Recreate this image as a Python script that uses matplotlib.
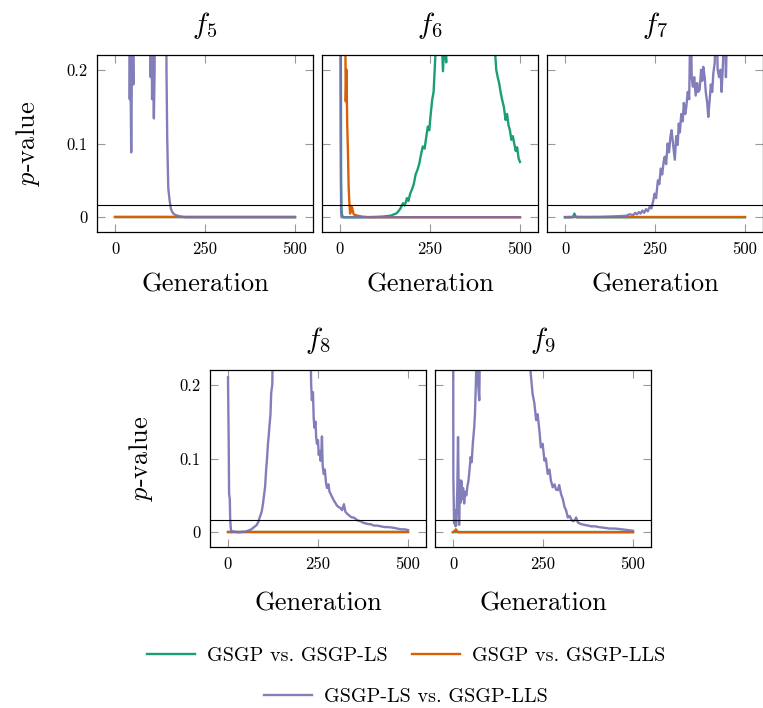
import matplotlib
matplotlib.use("Agg")
import matplotlib.pyplot as plt
from matplotlib.lines import Line2D

plt.rcParams['font.family'] = ['cmr10', 'DejaVu Serif']
plt.rcParams['mathtext.fontset'] = 'cm'
plt.rcParams['axes.formatter.use_mathtext'] = True

GREEN = '#1b9e77'
ORANGE = '#d95f02'
PURPLE = '#7570b3'
ALPHA_LINE = 0.05 / 3

# ---- f5 ----
f5_gen_ls = [0, 500]
f5_p_ls = [0, 0]
f5_gen_lls = [0, 500]
f5_p_lls = [0, 0]
f5_gen_ls_lls = [0, 40, 41, 42, 43, 45, 47, 49, 51, 53, 98, 99, 101, 103, 105, 108, 110, 112,
                 141, 143, 145, 147, 148, 150, 152, 155, 158, 162, 168, 175, 182, 190, 200, 300, 400, 500]
f5_p_ls_lls = [0.6, 0.5, 0.16, 0.3, 0.2, 0.088, 0.2, 0.26, 0.18, 0.5, 0.5, 0.19, 0.3, 0.16, 0.24, 0.134, 0.2, 0.5,
               0.5, 0.2, 0.11, 0.06, 0.04, 0.03, 0.022, 0.012, 0.008, 0.005, 0.003, 0.002, 0.001, 0.0003, 0, 0, 0, 0]

# ---- f6 ----
f6_gen_ls = [0, 2, 3, 4, 6, 10, 60, 100, 120, 130,
             140, 150, 156, 162, 168, 175, 180, 186, 190, 195,
             200, 205, 210, 215, 220, 225, 230, 235, 240, 244,
             248, 252, 256, 260, 263, 268, 275, 282, 286, 290,
             295, 300, 425, 430, 434, 438, 442, 446, 450, 455,
             460, 464, 468, 472, 476, 480, 484, 488, 492, 496, 500]
f6_p_ls = [0.5, 0.3, 0.05, 0.01, 0.002, 0.0, 0.0, 0.0005, 0.001, 0.0015,
           0.002, 0.004, 0.005, 0.008, 0.012, 0.019, 0.016, 0.026, 0.022, 0.032,
           0.038, 0.045, 0.058, 0.064, 0.072, 0.085, 0.096, 0.093, 0.11, 0.123,
           0.118, 0.14, 0.159, 0.17, 0.2, 0.25, 0.3, 0.25, 0.198, 0.24,
           0.21, 0.4, 0.4, 0.23, 0.2, 0.19, 0.182, 0.17, 0.16, 0.15,
           0.132, 0.14, 0.125, 0.118, 0.105, 0.11, 0.1, 0.09, 0.095, 0.08, 0.075]
f6_gen_lls = [0, 5, 8, 10, 12, 14, 16, 18, 20, 22,
              24, 26, 28, 30, 33, 35, 38, 42, 50, 60, 80, 500]
f6_p_lls = [0.6, 0.5, 0.3, 0.4, 0.25, 0.3, 0.157, 0.2, 0.127, 0.09,
            0.041, 0.02, 0.005, 0.008, 0.014, 0.01, 0.004, 0.003, 0.002, 0.001, 0, 0]
f6_gen_ls_lls = [0, 1, 2, 3, 4, 500]
f6_p_ls_lls = [0.6, 0.3, 0.1, 0.01, 0.0, 0.0]

# ---- f7 ----
f7_gen_ls = [0, 20, 24, 26, 28, 32, 500]
f7_p_ls = [0, 0, 0.002, 0.005, 0.002, 0, 0]
f7_gen_lls = [0, 500]
f7_p_lls = [0, 0]
f7_gen_ls_lls = [0, 30, 60, 100, 130, 150, 170, 180, 190, 195,
                 200, 205, 210, 215, 220, 225, 230, 235, 240, 245,
                 249, 253, 258, 262, 266, 270, 274, 277, 281, 285,
                 289, 293, 296, 300, 305, 309, 313, 316, 319, 323,
                 327, 330, 334, 337, 341, 345, 349, 352, 355, 359,
                 363, 367, 370, 374, 378, 381, 384, 388, 391, 395,
                 398, 402, 405, 409, 412, 416, 420, 424, 428, 432,
                 435, 439, 443, 447, 450, 455, 500]
f7_p_ls_lls = [0, 0.0005, 0.0003, 0.0005, 0.001, 0.0015, 0.002, 0.004, 0.003, 0.006,
               0.004, 0.007, 0.005, 0.009, 0.006, 0.011, 0.008, 0.014, 0.012, 0.022,
               0.032, 0.026, 0.05, 0.045, 0.066, 0.058, 0.075, 0.082, 0.072, 0.1,
               0.088, 0.11, 0.118, 0.1, 0.078, 0.11, 0.098, 0.127, 0.115, 0.14,
               0.13, 0.155, 0.14, 0.15, 0.17, 0.16, 0.3, 0.19, 0.177, 0.19,
               0.165, 0.182, 0.17, 0.173, 0.2, 0.185, 0.204, 0.19, 0.17, 0.155,
               0.136, 0.16, 0.18, 0.17, 0.195, 0.21, 0.3, 0.2, 0.19, 0.2,
               0.17, 0.21, 0.3, 0.19, 0.25, 0.4, 0.5]

# ---- f8 ----
f8_gen_ls = [0, 500]
f8_p_ls = [0, 0]
f8_gen_lls = [0, 500]
f8_p_lls = [0, 0]
f8_gen_ls_lls = [0, 2, 3, 5, 6, 8, 10, 14, 20, 30,
                 40, 50, 55, 60, 65, 70, 75, 80, 85, 88,
                 91, 94, 97, 100, 103, 106, 108, 111, 113, 115,
                 118, 120, 123, 126, 228, 231, 233, 236, 238, 240,
                 243, 245, 247, 250, 252, 255, 257, 259, 261, 263,
                 266, 269, 272, 275, 279, 282, 285, 290, 294, 298,
                 303, 308, 312, 317, 322, 326, 331, 336, 341, 345,
                 349, 355, 360, 368, 375, 382, 390, 396, 405, 415,
                 425, 435, 445, 461, 470, 480, 490, 500]
f8_p_ls_lls = [0.21, 0.12, 0.052, 0.045, 0.018, 0.004, 0.0, 0.001, 0.0005, 0.0,
               0.0005, 0.001, 0.002, 0.003, 0.004, 0.006, 0.008, 0.01, 0.015, 0.02,
               0.024, 0.029, 0.038, 0.05, 0.061, 0.085, 0.097, 0.12, 0.13, 0.143,
               0.16, 0.189, 0.2, 0.3, 0.3, 0.2, 0.179, 0.19, 0.155, 0.142,
               0.15, 0.128, 0.12, 0.125, 0.105, 0.11, 0.097, 0.105, 0.13, 0.09,
               0.079, 0.085, 0.068, 0.06, 0.065, 0.055, 0.052, 0.047, 0.043, 0.04,
               0.036, 0.034, 0.033, 0.03, 0.038, 0.028, 0.025, 0.023, 0.021, 0.02,
               0.02, 0.018, 0.016, 0.015, 0.013, 0.012, 0.011, 0.011, 0.009, 0.009,
               0.008, 0.007, 0.007, 0.006, 0.005, 0.004, 0.004, 0.003]

# ---- f9 ----
f9_gen_ls = [0, 500]
f9_p_ls = [0, 0]
f9_gen_lls = [0, 5, 8, 11, 14, 500]
f9_p_lls = [0, 0.002, 0.004, 0.002, 0, 0]
f9_gen_ls_lls = [0, 1, 3, 5, 7, 9, 12, 14, 17, 19,
                 21, 23, 26, 28, 31, 34, 37, 40, 43, 46,
                 49, 52, 55, 59, 61, 63, 66, 68, 70, 73,
                 76, 210, 215, 221, 226, 231, 235, 240, 244, 249,
                 254, 258, 263, 268, 272, 277, 282, 286, 291, 295,
                 300, 305, 310, 314, 319, 324, 329, 333, 338, 342,
                 347, 352, 356, 365, 375, 384, 395, 405, 421, 435,
                 450, 468, 485, 500]
f9_p_ls_lls = [0.5, 0.074, 0.012, 0.03, 0.008, 0.01, 0.06, 0.129, 0.01, 0.07,
               0.04, 0.07, 0.045, 0.06, 0.039, 0.055, 0.05, 0.062, 0.07, 0.085,
               0.102, 0.095, 0.12, 0.143, 0.16, 0.193, 0.25, 0.3, 0.2, 0.179,
               0.3, 0.3, 0.22, 0.188, 0.175, 0.152, 0.16, 0.138, 0.115, 0.12,
               0.097, 0.1, 0.079, 0.085, 0.07, 0.061, 0.065, 0.058, 0.057, 0.064,
               0.052, 0.045, 0.034, 0.03, 0.02, 0.022, 0.017, 0.015, 0.016, 0.02,
               0.013, 0.012, 0.011, 0.01, 0.009, 0.008, 0.008, 0.007, 0.006, 0.005,
               0.005, 0.004, 0.003, 0.002]

# title, top-left corner (px), series..., y labels?, xlabel pad
panels = [
    ('$f_5$', (97, 55), f5_gen_ls, f5_p_ls, f5_gen_lls, f5_p_lls, f5_gen_ls_lls, f5_p_ls_lls, True, 11),
    ('$f_6$', (322, 55), f6_gen_ls, f6_p_ls, f6_gen_lls, f6_p_lls, f6_gen_ls_lls, f6_p_ls_lls, False, 11),
    ('$f_7$', (547, 55), f7_gen_ls, f7_p_ls, f7_gen_lls, f7_p_lls, f7_gen_ls_lls, f7_p_ls_lls, False, 11),
    ('$f_8$', (210, 370), f8_gen_ls, f8_p_ls, f8_gen_lls, f8_p_lls, f8_gen_ls_lls, f8_p_ls_lls, True, 14.5),
    ('$f_9$', (435, 370), f9_gen_ls, f9_p_ls, f9_gen_lls, f9_p_lls, f9_gen_ls_lls, f9_p_ls_lls, False, 14.5),
]

W, H = 763, 708
fig = plt.figure(figsize=(W / 100, H / 100), dpi=100)
aw, ah = 216, 177

for title, (x0, y0), g1, p1, g2, p2, g3, p3, ylab, xpad in panels:
    ax = fig.add_axes([x0 / W, 1 - (y0 + ah) / H, aw / W, ah / H])
    ax.plot(g1, p1, color=GREEN, lw=1.7)
    ax.plot(g2, p2, color=ORANGE, lw=1.7)
    ax.plot(g3, p3, color=PURPLE, lw=1.7, alpha=0.9)
    ax.axhline(ALPHA_LINE, color='black', lw=0.8)
    ax.set_xlim(-50, 550)
    ax.set_ylim(-0.02, 0.22)
    ax.set_xticks([0, 250, 500])
    ax.set_xticklabels(['0', '250', '500'])
    ax.set_yticks([0, 0.1, 0.2])
    if ylab:
        ax.set_yticklabels(['0', '0.1', '0.2'])
        ax.set_ylabel('$p$-value', fontsize=19, labelpad=17)
    else:
        ax.set_yticklabels([])
    ax.tick_params(direction='in', top=True, right=True, length=6, width=0.8,
                   color='#999999', labelsize=12, pad=7)
    for s in ax.spines.values():
        s.set_linewidth(0.9)
    ax.set_xlabel('Generation', fontsize=19, labelpad=xpad)
    ax.set_title(title, fontsize=21, pad=16)

h_ls = Line2D([], [], color=GREEN, lw=1.7)
h_lls = Line2D([], [], color=ORANGE, lw=1.7)
h_ls_lls = Line2D([], [], color=PURPLE, lw=1.7, alpha=0.9)
fig.legend([h_ls, h_lls], ['GSGP vs. GSGP-LS', 'GSGP vs. GSGP-LLS'], ncol=2,
           loc='center', bbox_to_anchor=(406 / W, 1 - 656 / H), frameon=False,
           fontsize=14.5, handlelength=2.4, columnspacing=1.2, handletextpad=0.6)
fig.legend([h_ls_lls], ['GSGP-LS vs. GSGP-LLS'], loc='center',
           bbox_to_anchor=(406 / W, 1 - 697 / H), frameon=False,
           fontsize=14.5, handlelength=2.4, handletextpad=0.6)

fig.savefig('out.png', dpi=100)
